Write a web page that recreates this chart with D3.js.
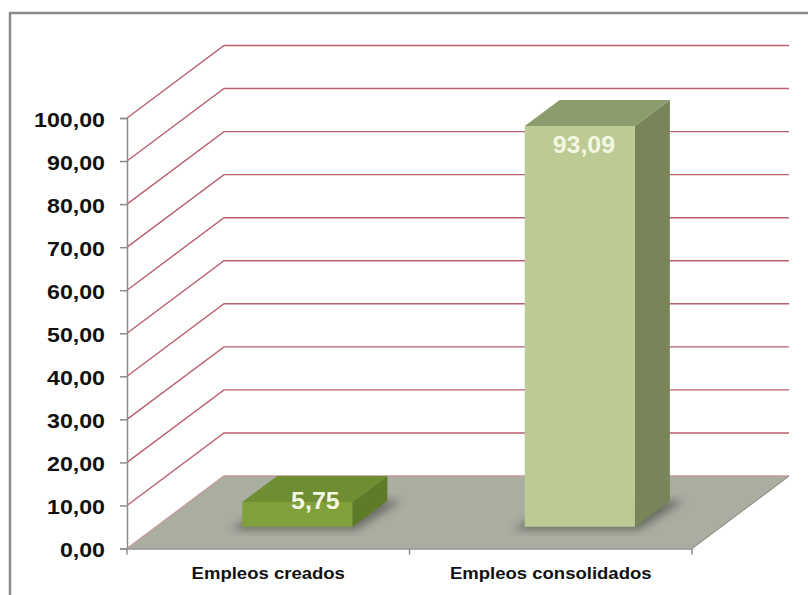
<!DOCTYPE html>
<html>
<head>
<meta charset="utf-8">
<script src="https://cdn.jsdelivr.net/npm/d3@7"></script>
<style>
  body { margin: 0; background: #fff; }
  text { font-family: "Liberation Sans", Arial, sans-serif; }
</style>
</head>
<body>
<script>
let categories = ["Empleos creados", "Empleos consolidados"];
let values = [5.75, 93.09];
let valueLabels = ["5,75", "93,09"];
let yTicks = [0, 10, 20, 30, 40, 50, 60, 70, 80, 90, 100];
let yTickLabels = ["0,00", "10,00", "20,00", "30,00", "40,00", "50,00", "60,00", "70,00", "80,00", "90,00", "100,00"];
let frontFaces = ["#80a03b", "#bccb94"];
let topFaces = ["#6f8d31", "#8d9c6c"];
let sideFaces = ["#5e7b27", "#778558"];

let w = 808;
let h = 595;

// 3d depth of the floor / walls
let DX = 97;
let DY = -72.5;
// bar position inside the depth (fraction of full depth)
let d0 = 0.3;
let d1 = 0.66;
let barFrac = 0.39;

let svg = d3.select("body").append("svg").attr("width", w).attr("height", h);

let defs = svg.append("defs");
defs
  .append("filter")
  .attr("id", "blur")
  .attr("x", "-20%")
  .attr("y", "-20%")
  .attr("width", "140%")
  .attr("height", "140%")
  .append("feGaussianBlur")
  .attr("stdDeviation", 4);

svg
  .append("rect")
  .attr("x", 10)
  .attr("y", 13)
  .attr("width", 850)
  .attr("height", 650)
  .attr("fill", "#fff")
  .attr("stroke", "#8a8a8a")
  .attr("stroke-width", 2.5);

let yScale = d3.scaleLinear().domain([0, 100]).range([548.5, 118]);
let xScale = d3.scaleBand().domain(categories).range([127, 692]);

let x0 = xScale.range()[0];
let x1 = xScale.range()[1];
let y0 = yScale(0);

// floor
svg
  .append("polygon")
  .attr("points", [
    [x0, y0],
    [x1, y0],
    [x1 + DX, y0 + DY],
    [x0 + DX, y0 + DY],
  ].join(" "))
  .attr("fill", "#aaaea1");

svg
  .append("line")
  .attr("x1", x1)
  .attr("y1", y0)
  .attr("x2", x1 + DX)
  .attr("y2", y0 + DY)
  .attr("stroke", "#909488")
  .attr("stroke-width", 1.2);

// gridlines on side wall and back wall
svg
  .selectAll(".grid")
  .data(yTicks)
  .enter()
  .append("polyline")
  .attr("class", "grid")
  .attr("points", (d) =>
    [
      [x0, yScale(d)],
      [x0 + DX, yScale(d) + DY],
      [x1 + DX, yScale(d) + DY],
    ].join(" ")
  )
  .attr("fill", "none")
  .attr("stroke", (d) => (d === 0 ? "#c49a9c" : "#b9606f"))
  .attr("stroke-width", 1.4);

// y axis
let yAxis = d3
  .axisLeft(yScale)
  .tickValues(yTicks)
  .tickSize(7)
  .tickFormat((d, i) => "");

let gy = svg
  .append("g")
  .attr("transform", "translate(" + x0 + ",0)")
  .call(yAxis);
gy.selectAll("path, line").attr("stroke", "#8c8c8c").attr("stroke-width", 1.5);

gy.selectAll(".tick")
  .append("text")
  .attr("fill", "#111")
  .attr("stroke", "none")
  .attr("font-size", 20)
  .attr("font-weight", "bold")
  .attr("text-anchor", "end")
  .attr("transform", "translate(-22,8) scale(1.16,1)")
  .text((d, i) => yTickLabels[i]);

// x axis (front edge of floor)
let xAxis = d3.axisBottom(xScale).tickSize(0).tickFormat("");
let gx = svg
  .append("g")
  .attr("transform", "translate(0," + y0 + ")")
  .call(xAxis);
gx.select("path").attr("stroke", "#8c8c8c").attr("stroke-width", 1.5);

let sepTicks = [x0, xScale(categories[1]), x1];
gx.selectAll(".sep")
  .data(sepTicks)
  .enter()
  .append("line")
  .attr("class", "sep")
  .attr("x1", (d) => d)
  .attr("x2", (d) => d)
  .attr("y1", 0)
  .attr("y2", 6)
  .attr("stroke", "#8c8c8c")
  .attr("stroke-width", 1.5);

svg
  .selectAll(".cat")
  .data(categories)
  .enter()
  .append("text")
  .attr("class", "cat")
  .attr("font-size", 17)
  .attr("font-weight", "bold")
  .attr("fill", "#111")
  .attr("text-anchor", "middle")
  .attr("transform", (d) =>
    "translate(" + (xScale(d) + xScale.bandwidth() / 2) + ",579) scale(1.09,1)"
  )
  .text((d) => d);

// bars
let bw = xScale.bandwidth() * barFrac;
let dd = d1 - d0;

let bars = categories.map((c, i) => {
  let bx = xScale(c) + (xScale.bandwidth() - bw) / 2 + d0 * DX;
  let base = y0 + d0 * DY;
  let top = yScale(values[i]) + d0 * DY;
  return { i: i, bx: bx, base: base, top: top };
});

// soft shadows on the floor
svg
  .selectAll(".shadow")
  .data(bars)
  .enter()
  .append("polygon")
  .attr("class", "shadow")
  .attr("points", (b) =>
    [
      [b.bx - 12, b.base + 3],
      [b.bx + bw + 4, b.base + 3],
      [b.bx + bw + dd * DX + 14, b.base + dd * DY],
      [b.bx + dd * DX, b.base + dd * DY],
    ].join(" ")
  )
  .attr("fill", "#3f423a")
  .attr("opacity", 0.6)
  .attr("filter", "url(#blur)");

let gb = svg.selectAll(".bar").data(bars).enter().append("g").attr("class", "bar");

gb.append("polygon")
  .attr("points", (b) =>
    [
      [b.bx + bw, b.top],
      [b.bx + bw + dd * DX, b.top + dd * DY],
      [b.bx + bw + dd * DX, b.base + dd * DY],
      [b.bx + bw, b.base],
    ].join(" ")
  )
  .attr("fill", (b) => sideFaces[b.i]);

gb.append("polygon")
  .attr("points", (b) =>
    [
      [b.bx, b.top],
      [b.bx + dd * DX, b.top + dd * DY],
      [b.bx + bw + dd * DX, b.top + dd * DY],
      [b.bx + bw, b.top],
    ].join(" ")
  )
  .attr("fill", (b) => topFaces[b.i]);

gb.append("rect")
  .attr("x", (b) => b.bx)
  .attr("y", (b) => b.top)
  .attr("width", bw)
  .attr("height", (b) => b.base - b.top)
  .attr("fill", (b) => frontFaces[b.i]);

// value labels: inside the top of the bar, pushed up onto the top face when the bar is short
gb.append("text")
  .attr("font-size", 24)
  .attr("font-weight", "bold")
  .attr("fill", "#f3f6e2")
  .attr("text-anchor", "middle")
  .attr("transform", (b) => {
    let clamped = b.top + 27 > b.base - 18;
    let lx = b.bx + bw / 2 + (clamped ? 18 : 4);
    let ly = clamped ? b.base - 18 : b.top + 27;
    return "translate(" + lx + "," + ly + ") scale(1.04,1)";
  })
  .text((b) => valueLabels[b.i]);
</script>
</body>
</html>
